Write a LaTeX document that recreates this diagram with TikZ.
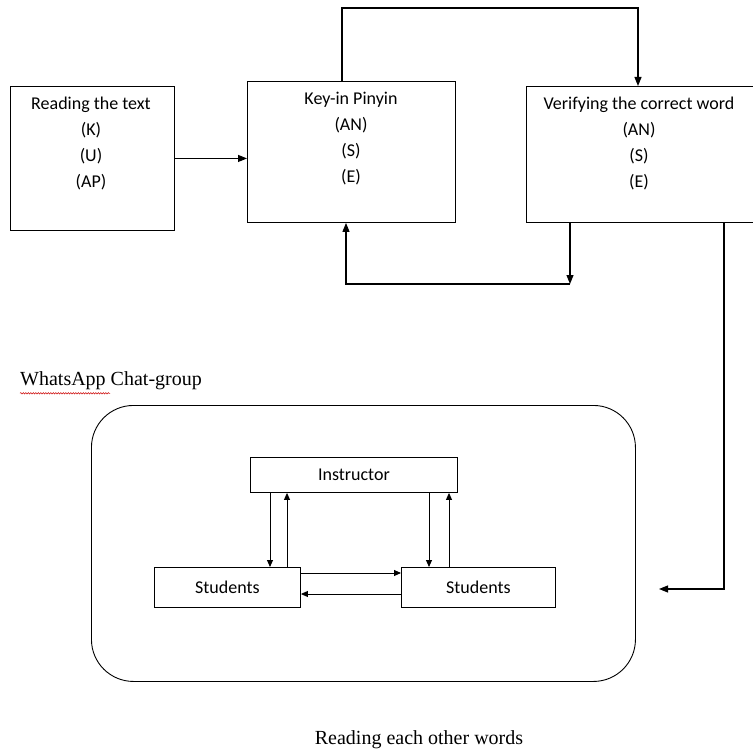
\documentclass[tikz,border=0pt]{standalone}
\usepackage{fontspec}
\setmainfont{Carlito}
\newfontfamily\serifface{Liberation Serif}
\usetikzlibrary{arrows.meta,decorations.pathmorphing}
\begin{document}
\begin{tikzpicture}[x=1pt,y=-1pt,
  box/.style={draw, line width=0.9pt, inner sep=0pt, anchor=north west},
  sbox/.style={draw, line width=0.9pt, inner sep=0pt, anchor=north west, font=\fontsize{18}{22}\selectfont},
  txt/.style={align=center, anchor=north, inner sep=0pt, font=\fontsize{18}{26}\selectfont},
  serif/.style={inner sep=0pt, font=\serifface\fontsize{20}{24}\selectfont},
  arr/.style={line width=1.1pt, -{Triangle[length=9pt,width=7pt]}},
  arrs/.style={line width=0.9pt, -{Triangle[length=7pt,width=6pt]}}]
\useasboundingbox (0,0) rectangle (753,752);
\fill[white] (0,0) rectangle (753,752);

% top row
\node[box, minimum width=164pt, minimum height=144pt] (b1) at (10,86) {};
\node[txt] (t1) at (91,97) {Reading the text\\(K)\\(U)\\(AP)};
\node[box, minimum width=208pt, minimum height=141pt] (b2) at (247,81) {};
\node[txt] (t2) at (351,92) {Key-in Pinyin\\(AN)\\(S)\\(E)};
\begin{scope}
  \clip (0,0) rectangle (753,752);
  \node[box, minimum width=232pt, minimum height=136pt] (b3) at (526,86) {};
\end{scope}
\node[txt] (t3) at (639,97) {Verifying the correct word\\(AN)\\(S)\\(E)};

\coordinate (tl) at (342,8);
\coordinate (tr) at (638,8);
\coordinate (br) at (570,284);
\coordinate (bl) at (346,284);
\coordinate (rr) at (724,589);
\coordinate (ra) at (659,589);

\draw[arr] (b1.east) -- (b1.east -| b2.west);
\draw[arr] (b2.north -| tl) -- (tl) -- (tr) -- (tr |- b3.north);
\draw[arr] (br |- b3.south) -- (br);
\draw[arr] (br) -- (bl) -- (bl |- b2.south);
\draw[arr] (rr |- b3.south) -- (rr) -- (ra);

% group
\node[serif, anchor=west] (wa) at (20,381) {WhatsApp Chat-group};
\draw[red!80!black, line width=0.5pt, decorate, decoration={snake, amplitude=0.7pt, segment length=2.5pt}]
  ([yshift=-3pt]wa.south west) -- ([xshift=90pt,yshift=-3pt]wa.south west);
\node[draw, line width=0.9pt, rounded corners=42pt, minimum width=544pt, minimum height=276pt, anchor=north west] (grp) at (91,405) {};

\node[sbox, minimum width=207pt, minimum height=35pt] (ins) at (250,457) {Instructor};
\node[sbox, minimum width=146pt, minimum height=40pt] (sl) at (154,567) {Students};
\node[sbox, minimum width=154pt, minimum height=40pt] (sr) at (401,567) {Students};

\coordinate (x1) at (270,0);
\coordinate (x2) at (287,0);
\coordinate (x3) at (429,0);
\coordinate (x4) at (449,0);
\coordinate (h1) at (0,573);
\coordinate (h2) at (0,594);

\draw[arrs] (ins.south -| x1) -- (sl.north -| x1);
\draw[arrs] (sl.north -| x2) -- (ins.south -| x2);
\draw[arrs] (ins.south -| x3) -- (sr.north -| x3);
\draw[arrs] (sr.north -| x4) -- (ins.south -| x4);
\draw[arrs] (sl.east |- h1) -- (sr.west |- h1);
\draw[arrs] (sr.west |- h2) -- (sl.east |- h2);

\node[serif] (rw) at (419,740) {Reading each other words};
\end{tikzpicture}
\end{document}
